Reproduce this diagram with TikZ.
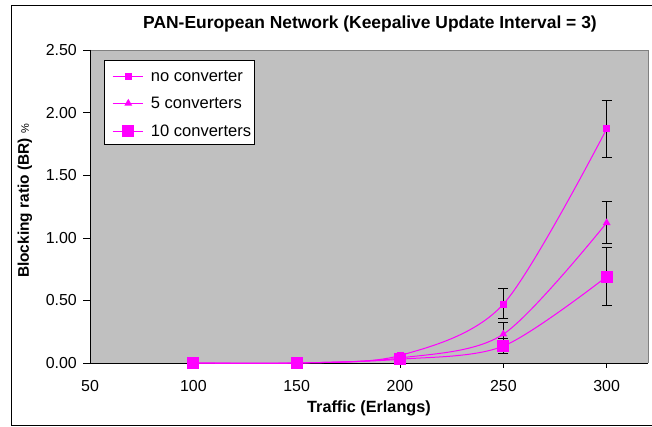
\documentclass[tikz,border=0pt]{standalone}
\usepackage{fontspec}
\setmainfont{Liberation Sans}
\usetikzlibrary{shapes.geometric,arrows.meta}
\definecolor{plotgray}{HTML}{C0C0C0}
\definecolor{edgegray}{HTML}{808080}
\definecolor{mag}{HTML}{FF00FF}
\tikzstyle{curve} = [mag, line width=1bp]
\tikzstyle{errbar} = [black, line width=0.9bp, {Bar[width=10bp]}-{Bar[width=10bp]}]
\tikzstyle{sqsmall} = [rectangle, fill=mag, inner sep=0pt, minimum size=7bp]
\tikzstyle{sqbig} = [rectangle, fill=mag, inner sep=0pt, minimum size=12bp]
\tikzstyle{tri} = [regular polygon, regular polygon sides=3, fill=mag, inner sep=0pt, minimum size=9bp]
\tikzstyle{ticklab} = [font=\fontsize{16}{19}\selectfont, inner sep=0pt]
\tikzstyle{legtext} = [font=\fontsize{16.6}{19}\selectfont, inner sep=0pt, anchor=west]
\tikzstyle{axtext} = [font=\fontsize{16.3}{19}\selectfont\bfseries, inner sep=0pt]

\begin{document}
\begin{tikzpicture}[x=1bp, y=1bp]
    \useasboundingbox (0,0) rectangle (652,426);
    \fill[white] (0,0) rectangle (652,426);
    \draw[line width=0.8bp] (653,1) -- (11,1) -- (11,421) -- (653,421);

    \node[axtext, font=\fontsize{17.5}{20}\selectfont\bfseries] (title) at (370,402)
        {PAN-European Network (Keepalive Update Interval = 3)};
    \node[axtext] (xlabel) at (369,18) {Traffic (Erlangs)};
    \node[axtext, font=\fontsize{15.5}{18}\selectfont\bfseries, rotate=90] (ylabel) at (25,225)
        {Blocking ratio (BR) {\fontsize{11}{13}\mdseries\selectfont\%}};

    % data coordinates: traffic on x, blocking ratio on y
    \begin{scope}[shift={(-13.333,63)}, x=2.06667bp, y=125.2bp]
        \fill[plotgray] (50,0) rectangle (320,2.5);
        \draw[edgegray] (50,2.5) -- (320,2.5) -- (320,0);
        \draw (50,2.5) -- (50,0) -- (320,0);

        \foreach \v/\lab [count=\i] in {0/0.00,0.5/0.50,1/1.00,1.5/1.50,2/2.00,2.5/2.50} {
            \draw (50,\v) -- ++(-7bp,0pt);
            \node[ticklab, anchor=east] (yt\i) at ([xshift=-13bp]50,\v) {\lab};
        }
        \foreach \t [count=\i] in {50,100,150,200,250,300} {
            \ifnum\t>50 \draw (\t,0) -- ++(0pt,-5bp); \fi
            \node[ticklab] (xt\i) at ([yshift=-23.5bp]\t,0) {\t};
        }

        % measured points
        \foreach \t/\v [count=\i] in {100/0,150/0,200/0.06,250/0.47,300/1.87}
            \coordinate (a\i) at (\t,\v);
        \foreach \t/\v [count=\i] in {100/0,150/0,200/0.04,250/0.23,300/1.12}
            \coordinate (b\i) at (\t,\v);
        \foreach \t/\v [count=\i] in {100/0,150/0,200/0.03,250/0.135,300/0.69}
            \coordinate (c\i) at (\t,\v);

        \draw[curve] plot[smooth] coordinates {(a1) (a2) (a3) (a4) (a5)};
        \draw[curve] plot[smooth] coordinates {(b1) (b2) (b3) (b4) (b5)};
        \draw[curve] plot[smooth] coordinates {(c1) (c2) (c3) (c4) (c5)};

        % error bars
        \foreach \t/\lo/\hi [count=\i] in {250/0.35/0.60,300/1.635/2.10,250/0.13/0.33,
                300/0.95/1.29,250/0.07/0.20,300/0.455/0.93} {
            \coordinate (lo\i) at (\t,\lo);
            \coordinate (hi\i) at (\t,\hi);
            \draw[errbar] (lo\i) -- (hi\i);
        }

        \foreach \i in {1,...,5} \node[sqsmall] (ma\i) at (a\i) {};
        \foreach \i in {1,...,5} \node[tri] (mb\i) at (b\i) {};
        \foreach \i in {1,...,5} \node[sqbig] (mc\i) at (c\i) {};
    \end{scope}

    % legend
    \node[draw, fill=white, inner sep=0pt, minimum width=150bp, minimum height=84bp] (legend) at (179,324) {};
    \foreach \s/\y/\lab [count=\i] in {sqsmall/349.3/no converter,tri/322.7/5 converters,sqbig/295/10 converters} {
        \coordinate (la\i) at (112.7,\y);
        \coordinate (lb\i) at (143.3,\y);
        \draw[curve] (la\i) -- (lb\i);
        \node[\s] (lm\i) at (128.3,\y) {};
        \node[legtext] (lt\i) at (150.7,\y) {\lab};
    }
\end{tikzpicture}
\end{document}
